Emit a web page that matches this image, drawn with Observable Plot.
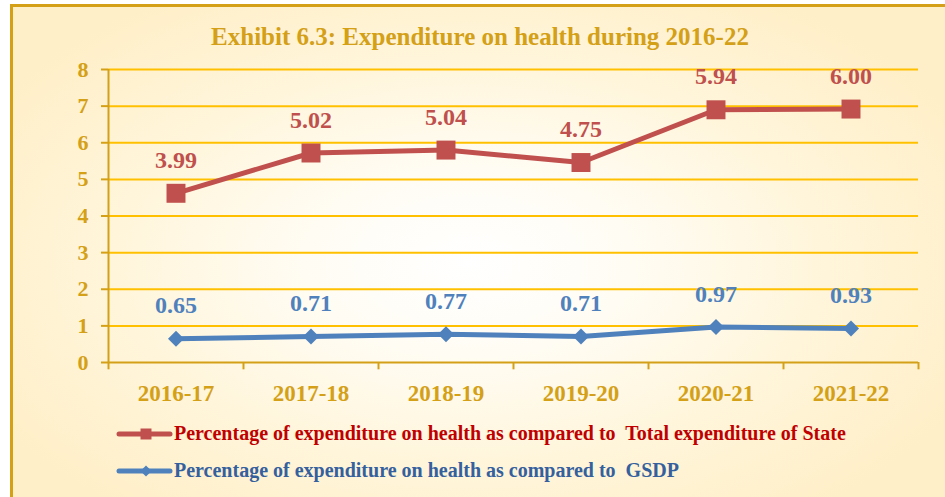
<!DOCTYPE html>
<html><head><meta charset="utf-8">
<script src="https://cdn.jsdelivr.net/npm/d3@7"></script>
<script src="https://cdn.jsdelivr.net/npm/@observablehq/plot@0.6"></script>
<style>
html,body{margin:0;padding:0;background:#fff;}
#wrap{position:relative;width:945px;height:497px;overflow:hidden;font-family:"Liberation Serif","Times New Roman",serif;font-weight:bold;}
#bg{position:absolute;left:10px;top:4px;width:950px;height:510px;border-left:3px solid #D4A017;border-top:3px solid #D4A017;
 background:radial-gradient(ellipse 58% 62% at 48% 50%, #FFFFFF 0%, #FFFCF3 30%, #FFF5DA 65%, #FFEFC8 100%);}
#title{position:absolute;left:0;width:960px;text-align:center;top:23px;font-size:25px;line-height:28px;color:#D4A017;white-space:pre;}
#chart{position:absolute;left:0;top:0;}
.leg{position:absolute;white-space:pre;font-size:20px;line-height:24px;left:174px;}
.sw{position:absolute;left:115px;}
</style>
</head><body>
<div id="wrap">
 <div id="bg"></div>
 <div id="chart"></div>
 <div id="title"></div>
 <div id="legend"></div>
</div>
<script>
const years = ["2016-17","2017-18","2018-19","2019-20","2020-21","2021-22"];
// plotted marker positions (as drawn) and their printed labels
const stateShare = [4.62, 5.72, 5.80, 5.46, 6.90, 6.92];
const stateLabels = ["3.99","5.02","5.04","4.75","5.94","6.00"];
const gsdpShare = [0.65, 0.71, 0.77, 0.71, 0.97, 0.93];
const gsdpLabels = ["0.65","0.71","0.77","0.71","0.97","0.93"];
const yTicks = [0,1,2,3,4,5,6,7,8];
const titleText = "Exhibit 6.3: Expenditure on health during 2016-22";
const seriesNames = [
  "Percentage of expenditure on health as compared to  Total expenditure of State",
  "Percentage of expenditure on health as compared to  GSDP"
];

const gold = "#D4A017", grid = "#FFC000", red = "#C0504D", blue = "#4F81BD";
const idx = years.map((_, i) => i);
const state = years.map((y, i) => ({i, year: y, v: stateShare[i], label: stateLabels[i]}));
const gsdp = years.map((y, i) => ({i, year: y, v: gsdpShare[i], label: gsdpLabels[i]}));
const bounds = d3.range(years.length + 1).map(k => k - 0.5);

const chart = Plot.plot({
  width: 945, height: 497,
  marginLeft: 108, marginRight: 27, marginTop: 69, marginBottom: 135,
  x: {type: "linear", domain: [-0.5, years.length - 0.5]},
  y: {domain: [0, 8]},
  style: {background: "transparent", fontFamily: "'Liberation Serif','Times New Roman',serif", fontWeight: "bold", overflow: "visible"},
  marks: [
    Plot.ruleY(yTicks.filter(d => d > 0), {stroke: grid, strokeWidth: 2}),
    Plot.ruleX(bounds, {y1: 0, y2: -0.2, stroke: gold, strokeWidth: 2}),
    Plot.ruleX([-0.5], {y1: 0, y2: 8, stroke: gold, strokeWidth: 2}),
    Plot.ruleY([0], {stroke: gold, strokeWidth: 2}),
    Plot.axisY({ticks: yTicks, tickSize: 7, tickPadding: 13, stroke: gold, strokeWidth: 2, fill: gold, fontSize: 22, label: null, tickFormat: d => d}),
    Plot.axisX({ticks: idx, tickSize: 0, tickPadding: 22, tickFormat: i => years[i], fill: gold, fontSize: 23, label: null}),
    Plot.line(gsdp, {x: "i", y: "v", stroke: blue, strokeWidth: 5}),
    Plot.dot(gsdp, {x: "i", y: "v", symbol: "diamond2", r: 7.2, fill: blue}),
    Plot.line(state, {x: "i", y: "v", stroke: red, strokeWidth: 5}),
    Plot.dot(state, {x: "i", y: "v", symbol: "square", r: 10.7, fill: red}),
    Plot.text(state, {x: "i", y: "v", text: "label", dy: -33, fill: red, fontSize: 24}),
    Plot.text(gsdp, {x: "i", y: "v", text: "label", dy: -33, fill: blue, fontSize: 24})
  ]
});
document.getElementById("chart").append(chart);
document.getElementById("title").textContent = titleText;

const legend = d3.select("#legend");
const legItems = [
  {name: seriesNames[0], color: red, text: "#C00000", symbol: d3.symbolSquare, size: 121, top: 421},
  {name: seriesNames[1], color: blue, text: "#35609E", symbol: d3.symbolDiamond2, size: 80, top: 458}
];
legItems.forEach(it => {
  const sw = legend.append("svg").attr("class", "sw").attr("width", 60).attr("height", 24)
    .style("top", it.top + "px");
  sw.append("line").attr("x1", 4).attr("x2", 55).attr("y1", 13).attr("y2", 13)
    .attr("stroke", it.color).attr("stroke-width", 5).attr("stroke-linecap", "round");
  sw.append("path").attr("d", d3.symbol(it.symbol, it.size)()).attr("transform", "translate(31,13)").attr("fill", it.color);
  legend.append("div").attr("class", "leg").style("top", it.top + "px").style("color", it.text).text(it.name);
});
</script>
</body></html>
